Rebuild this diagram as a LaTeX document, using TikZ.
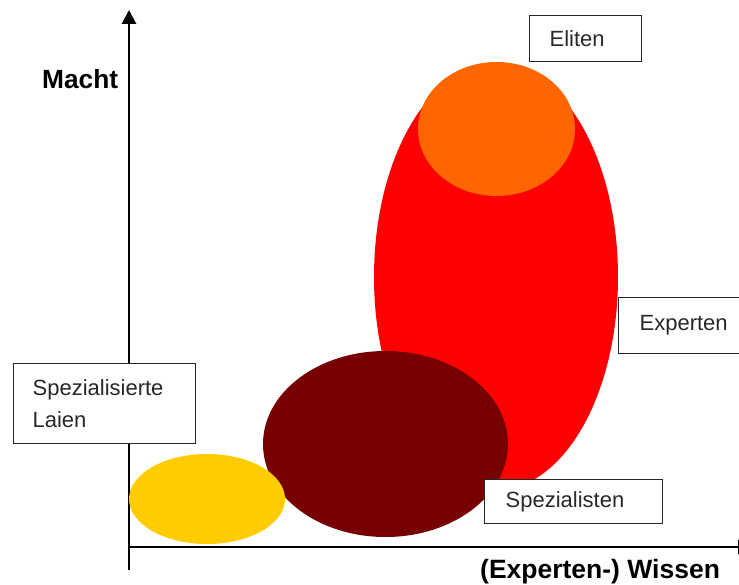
\documentclass[tikz,border=0pt]{standalone}
\usepackage{fontspec}
\setmainfont{Liberation Sans}
\usetikzlibrary{arrows.meta}
\definecolor{cred}{RGB}{255,0,0}
\definecolor{corange}{RGB}{255,102,0}
\definecolor{cmaroon}{RGB}{119,0,0}
\definecolor{cyellow}{RGB}{255,204,0}
\definecolor{ctext}{RGB}{40,40,40}
\begin{document}
\begin{tikzpicture}[x=1pt,y=-1pt,
  lbox/.style={draw=black!85, line width=1.3pt, fill=white, anchor=north west, align=left,
    text=ctext, font=\fontsize{22}{31.5}\selectfont, inner ysep=0pt},
  axisline/.style={line width=2.8pt, -{Triangle[length=14pt,width=14pt]}},
  axlabel/.style={inner sep=0pt, anchor=base west, text=black}]
\useasboundingbox (0,0) rectangle (739,585);
% axes
\coordinate (ybot) at (129,570);
\coordinate (ytop) at (129,10);
\coordinate (xleft) at (129,547);
\coordinate (xend) at (752,547);
\draw[axisline] (ybot) -- (ytop);
\draw[axisline] (xleft) -- (xend);
% ellipses
\fill[cred] (496,277) ellipse [x radius=122, y radius=213];
\fill[corange] (496.5,129) ellipse [x radius=78.5, y radius=67];
\fill[cmaroon] (385.5,444) ellipse [x radius=122.5, y radius=93];
\fill[cyellow] (207,499) ellipse [x radius=78, y radius=45];
% boxes
\node[lbox, text width=72pt, inner xsep=20pt, minimum height=46pt] (eliten) at (529,15) {Eliten};
\node[lbox, text width=100pt, inner xsep=21pt, minimum height=56pt] (experten) at (618,297) {Experten};
\node[lbox, text width=144pt, inner xsep=19pt, minimum height=80pt] (laien) at (13,363) {Spezialisierte\\Laien};
\node[lbox, text width=136pt, inner xsep=21pt, minimum height=44pt] (spez) at (484,479) {Spezialisten};
% axis labels
\node[axlabel, font=\fontsize{26.3}{30}\selectfont\bfseries] (macht) at (42,89) {Macht};
\node[axlabel, font=\fontsize{26.5}{30}\selectfont\bfseries] (wissen) at (480,578.5) {(Experten-) Wissen};
\end{tikzpicture}
\end{document}
